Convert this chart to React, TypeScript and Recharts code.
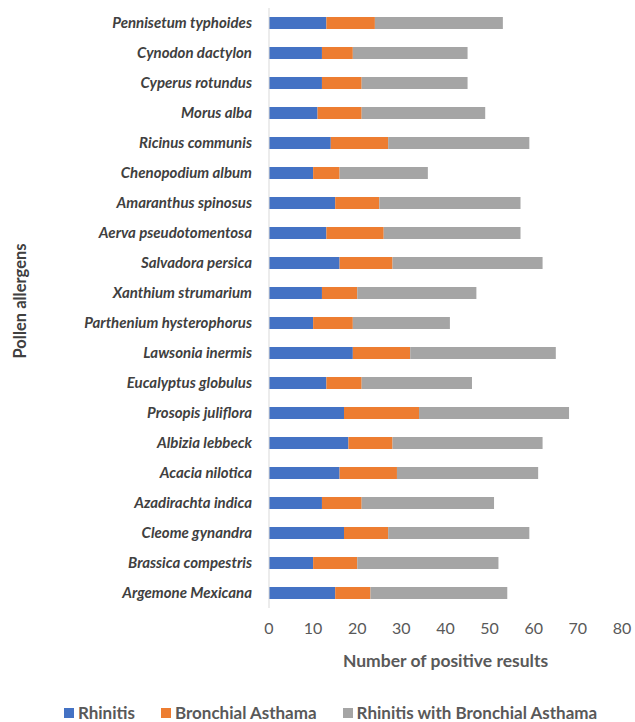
import { Bar, BarChart, Legend, XAxis, YAxis } from "recharts"

// pollen allergens, top to bottom as shown
const allergens = [
  "Pennisetum typhoides",
  "Cynodon dactylon",
  "Cyperus rotundus",
  "Morus alba",
  "Ricinus communis",
  "Chenopodium album",
  "Amaranthus spinosus",
  "Aerva pseudotomentosa",
  "Salvadora persica",
  "Xanthium strumarium",
  "Parthenium hysterophorus",
  "Lawsonia inermis",
  "Eucalyptus globulus",
  "Prosopis juliflora",
  "Albizia lebbeck",
  "Acacia nilotica",
  "Azadirachta indica",
  "Cleome gynandra",
  "Brassica compestris",
  "Argemone Mexicana",
]

const rhinitis = [13, 12, 12, 11, 14, 10, 15, 13, 16, 12, 10, 19, 13, 17, 18, 16, 12, 17, 10, 15]
const bronchial = [11, 7, 9, 10, 13, 6, 10, 13, 12, 8, 9, 13, 8, 17, 10, 13, 9, 10, 10, 8]
const both = [29, 26, 24, 28, 32, 20, 32, 31, 34, 27, 22, 33, 25, 34, 34, 32, 30, 32, 32, 31]

const xTicks = [0, 10, 20, 30, 40, 50, 60, 70, 80]

const series = [
  { key: "rhinitis", name: "Rhinitis", color: "#4472C4" },
  { key: "bronchial", name: "Bronchial Asthama", color: "#ED7D31" },
  { key: "both", name: "Rhinitis with Bronchial Asthama", color: "#A5A5A5" },
]

const data = allergens.map((name, i) => ({
  name,
  rhinitis: rhinitis[i],
  bronchial: bronchial[i],
  both: both[i],
}))

const font = "Lato, 'Open Sans', sans-serif"

function LegendContent() {
  return (
    <div
      style={{
        height: 54,
        display: "flex",
        justifyContent: "center",
        alignItems: "flex-end",
        gap: 26,
        paddingLeft: 26,
        fontFamily: font,
        fontSize: 17,
        fontWeight: 700,
        color: "#595959",
        lineHeight: "19px",
      }}
    >
      {series.map((s) => (
        <div key={s.key} style={{ display: "flex", alignItems: "center" }}>
          <span style={{ width: 10, height: 10, background: s.color, marginRight: 4, display: "inline-block" }} />
          {s.name}
        </div>
      ))}
    </div>
  )
}

export default function App() {
  return (
    <div style={{ position: "absolute", left: 0, top: 0 }}>
      <BarChart
        width={635}
        height={722}
        data={data}
        layout="vertical"
        margin={{ top: 8, right: 13, bottom: 0, left: 0 }}
        barSize={12}
      >
        <XAxis
          type="number"
          domain={[0, 80]}
          ticks={xTicks}
          axisLine={false}
          tickLine={false}
          tickSize={0}
          tickMargin={15}
          height={60}
          tick={{ fill: "#595959", fontSize: 16, fontFamily: font }}
          label={{
            value: "Number of positive results",
            position: "insideBottom",
            offset: 1,
            fill: "#595959",
            fontSize: 17.5,
            fontFamily: font,
            fontWeight: 700,
          }}
        />
        <YAxis
          type="category"
          dataKey="name"
          width={269}
          axisLine={{ stroke: "#d9d9d9" }}
          tickLine={false}
          tickSize={0}
          tickMargin={17}
          interval={0}
          tick={{ fill: "#404040", fontSize: 15, fontFamily: font, fontWeight: 700, fontStyle: "italic" }}
          label={() => (
            <text
              x={20}
              y={301}
              transform="rotate(-90, 20, 301)"
              textAnchor="middle"
              dominantBaseline="central"
              fill="#404040"
              fontSize={16.5}
              fontFamily={font}
              fontWeight={700}
            >
              Pollen allergens
            </text>
          )}
        />
        <Legend verticalAlign="bottom" content={<LegendContent />} wrapperStyle={{ bottom: 0, left: 0, width: 635 }} />
        {series.map((s) => (
          <Bar key={s.key} dataKey={s.key} name={s.name} stackId="a" fill={s.color} isAnimationActive={false} />
        ))}
      </BarChart>
    </div>
  )
}
